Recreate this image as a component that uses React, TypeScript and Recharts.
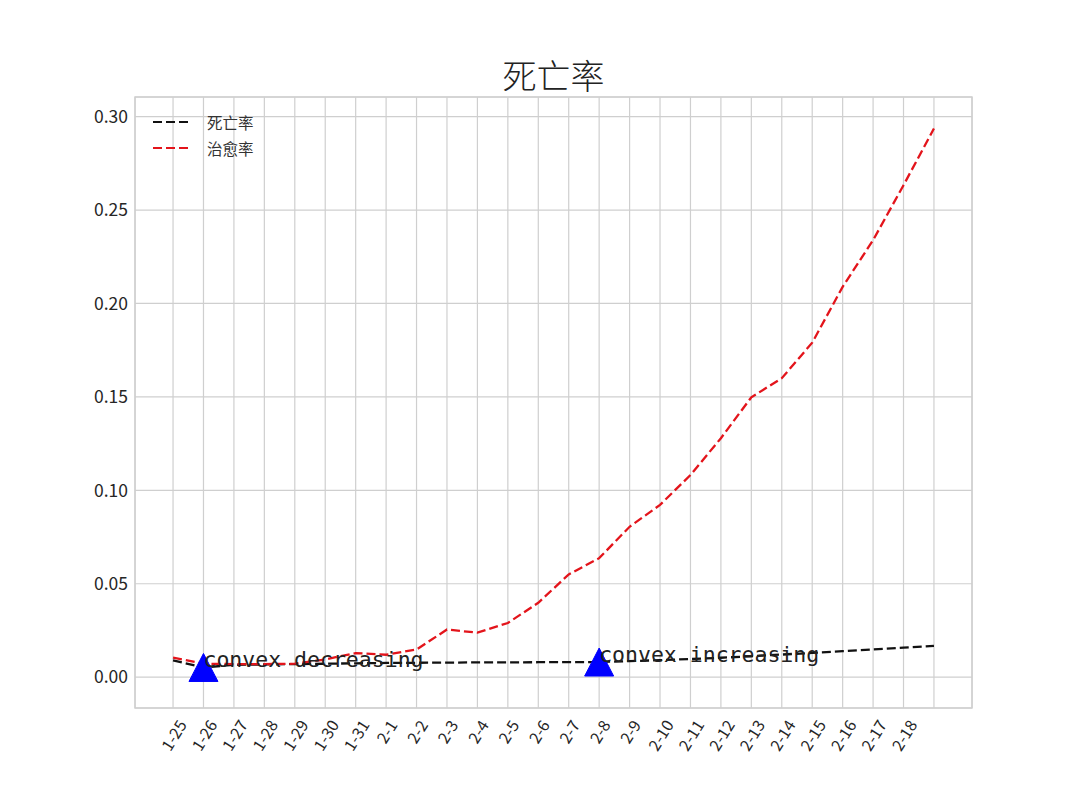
import {
  ComposedChart,
  Line,
  Scatter,
  XAxis,
  YAxis,
  CartesianGrid,
  Legend,
  ReferenceArea,
} from "recharts";

// x tick labels (the 26th point has no label in the original)
const dates = [
  "1-25", "1-26", "1-27", "1-28", "1-29", "1-30", "1-31",
  "2-1", "2-2", "2-3", "2-4", "2-5", "2-6", "2-7", "2-8", "2-9",
  "2-10", "2-11", "2-12", "2-13", "2-14", "2-15", "2-16", "2-17", "2-18",
];

// 死亡率
const deathRate = [
  0.009, 0.0052, 0.0066, 0.0068, 0.007, 0.0072, 0.0074, 0.0076, 0.0077,
  0.0078, 0.0079, 0.0079, 0.008, 0.0081, 0.0081, 0.0086, 0.0091, 0.0097,
  0.0104, 0.0112, 0.0121, 0.013, 0.0139, 0.0148, 0.0158, 0.0168,
];

// 治愈率
const cureRate = [
  0.0104, 0.0072, 0.007, 0.007, 0.0072, 0.0095, 0.0129, 0.012, 0.0148,
  0.0255, 0.0238, 0.029, 0.0398, 0.055, 0.0637, 0.0805, 0.0922, 0.1082,
  0.1279, 0.1498, 0.16, 0.179, 0.2089, 0.2339, 0.2633, 0.2936,
];

const yTicks = [0, 0.05, 0.1, 0.15, 0.2, 0.25, 0.3];

const markerIdx = [1, 14];
const markerText = ["convex decreasing", "convex increasing"];

const FONT = '"Noto Sans CJK SC", "Noto Sans", sans-serif';
const GRID = "#cfcfcf";
const RED = "#e3141b";
const BLACK = "#111111";
const X_MIN = -1.25;
const X_MAX = 26.25;
const Y_MIN = -0.0165;
const Y_MAX = 0.3105;

const chartData = deathRate.map((d, i) => ({ idx: i, death: d, cure: cureRate[i] }));
const markerData = markerIdx.map((i, k) => ({ idx: i, death: deathRate[i], text: markerText[k] }));
const xTicks = deathRate.map((_, i) => i);

const ANGLE = 58;

function XTick(props: any) {
  const { x, y, payload } = props;
  const label = dates[payload.value];
  if (!label) return null;
  const w = label.length * 8.6;
  const h = 12;
  const a = (ANGLE * Math.PI) / 180;
  const cy = y + 1 + (w * Math.sin(a) + h * Math.cos(a)) / 2;
  return (
    <text
      x={x}
      y={cy}
      transform={`rotate(-${ANGLE} ${x} ${cy})`}
      textAnchor="middle"
      dominantBaseline="central"
      fontSize={16}
      fill="#262626"
      fontFamily={FONT}
    >
      {label}
    </text>
  );
}

function Marker(props: any) {
  const { cx, cy, payload } = props;
  return (
    <g>
      <polygon
        points={`${cx},${cy - 14} ${cx - 14.5},${cy + 14} ${cx + 14.5},${cy + 14}`}
        fill="#0000ff"
        stroke="#0000ff"
      />
      <text x={cx} y={cy} fontSize={21.5} fontFamily='"DejaVu Sans Mono", monospace' fill="#222">
        {payload.text}
      </text>
    </g>
  );
}

function LegendBox() {
  const items = [
    { name: "死亡率", color: BLACK },
    { name: "治愈率", color: RED },
  ];
  return (
    <div style={{ fontFamily: FONT, fontSize: 15.5, color: "#333" }}>
      {items.map((it) => (
        <div key={it.name} style={{ display: "flex", alignItems: "center", height: 26 }}>
          <svg width={40} height={10} style={{ marginRight: 16 }}>
            <line x1={2} y1={5} x2={40} y2={5} stroke={it.color} strokeWidth={2.2} strokeDasharray="9 4" />
          </svg>
          <span>{it.name}</span>
        </div>
      ))}
    </div>
  );
}

export default function App() {
  return (
    <div style={{ position: "absolute", left: 0, top: 0, width: 1080, height: 810, background: "#fff" }}>
      <div
        style={{
          position: "absolute",
          left: 0,
          width: 1107,
          top: 50,
          textAlign: "center",
          fontFamily: FONT,
          fontSize: 34,
          fontWeight: 300,
          color: "#222",
        }}
      >
        死亡率
      </div>
      <ComposedChart
        width={1080}
        height={810}
        data={chartData}
        margin={{ top: 97, right: 108, bottom: 0, left: 0 }}
      >
        <CartesianGrid stroke={GRID} strokeWidth={1.2} />
        <ReferenceArea
          x1={X_MIN}
          x2={X_MAX}
          y1={Y_MIN}
          y2={Y_MAX}
          fill="none"
          stroke={GRID}
          strokeWidth={1.4}
          ifOverflow="visible"
        />
        <XAxis
          dataKey="idx"
          type="number"
          domain={[X_MIN, X_MAX]}
          ticks={xTicks}
          interval={0}
          allowDataOverflow
          height={102}
          tickLine={false}
          axisLine={false}
          tick={<XTick />}
        />
        <YAxis
          type="number"
          domain={[Y_MIN, Y_MAX]}
          ticks={yTicks}
          allowDataOverflow
          width={135}
          tickLine={false}
          axisLine={false}
          tickMargin={1}
          tickFormatter={(v: number) => v.toFixed(2)}
          tick={{ fontSize: 17.5, fill: "#262626", fontFamily: FONT }}
        />
        <Legend
          layout="horizontal"
          verticalAlign="middle"
          align="center"
          content={<LegendBox />}
          wrapperStyle={{ left: 151, top: 109, width: "auto", height: "auto" }}
        />
        <Line
          type="linear"
          dataKey="death"
          stroke={BLACK}
          strokeWidth={2.3}
          strokeDasharray="9 4"
          dot={false}
          activeDot={false}
          isAnimationActive={false}
        />
        <Line
          type="linear"
          dataKey="cure"
          stroke={RED}
          strokeWidth={2.3}
          strokeDasharray="9 4"
          dot={false}
          activeDot={false}
          isAnimationActive={false}
        />
        <Scatter
          data={markerData}
          dataKey="death"
          shape={<Marker />}
          legendType="none"
          isAnimationActive={false}
        />
      </ComposedChart>
    </div>
  );
}
